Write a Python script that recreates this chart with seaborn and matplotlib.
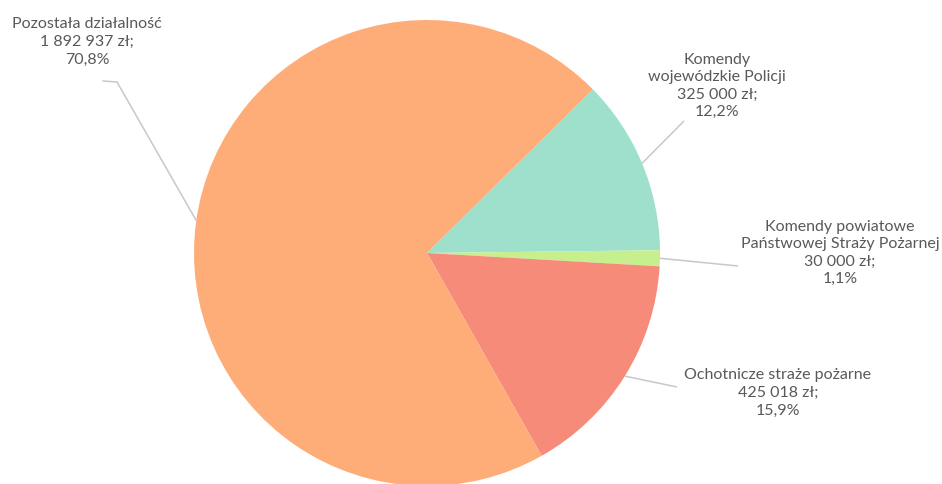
import numpy as np
import matplotlib
matplotlib.use("Agg")
import matplotlib.pyplot as plt
import seaborn as sns

# dane (kolejność zgodnie z ruchem wskazówek zegara)
kategorie = ["Komendy\nwojewódzkie Policji",
             "Komendy powiatowe\nPaństwowej Straży Pożarnej",
             "Ochotnicze straże pożarne",
             "Pozostała działalność"]
kwoty = ["325 000 zł;", "30 000 zł;", "425 018 zł;", "1 892 937 zł;"]
procenty = [12.2, 1.1, 15.9, 70.8]
kolory = ["#9EE0CB", "#C6EF8E", "#F68B7A", "#FFAD78"]

sns.set_theme(style="white")
plt.rcParams['font.family'] = ['Lato', 'DejaVu Sans']

W, H = 942, 484
fig = plt.figure(figsize=(W / 100, H / 100), dpi=100)
ax = fig.add_axes([0, 0, 1, 1])

cx, cy, r = 427, H - 253, 233
start = 44.6
wedges, _ = ax.pie(procenty, colors=kolory, startangle=start, counterclock=False,
                   center=(cx, cy), radius=r, frame=True,
                   wedgeprops=dict(linewidth=0))
ax.set_xlim(0, W)
ax.set_ylim(0, H)
ax.set_aspect('equal')
ax.axis('off')

# środki bloków etykiet (piksele) i końce linii odniesienia
etykiety = [(717, 86), (840, 253), (778, 393), (87, 42)]
konce = [(684, 121), (738, 266), (677, 387), (117, 82)]
kat_pozostala = 172

gray_txt = "#595959"
for i, w in enumerate(wedges):
    mid = (w.theta1 + w.theta2) / 2
    if i == 3:
        mid = kat_pozostala
    px = cx + r * np.cos(np.radians(mid))
    py = cy + r * np.sin(np.radians(mid))
    ex, ey = konce[i]
    ax.plot([px, ex], [py, H - ey], color="#c8c8c8", lw=1.1, solid_capstyle='butt')
    if i == 3:
        ax.plot([ex, ex - 14], [H - ey, H - ey + 1], color="#c8c8c8", lw=1.1)
    lx, ly = etykiety[i]
    txt = f"{kategorie[i]}\n{kwoty[i]}\n{procenty[i]:.1f}%".replace(".", ",")
    ax.text(lx, H - ly, txt, ha='center', va='center', fontsize=11.5,
            color=gray_txt, linespacing=1.32)

fig.savefig("out.png", dpi=100, facecolor="white")
